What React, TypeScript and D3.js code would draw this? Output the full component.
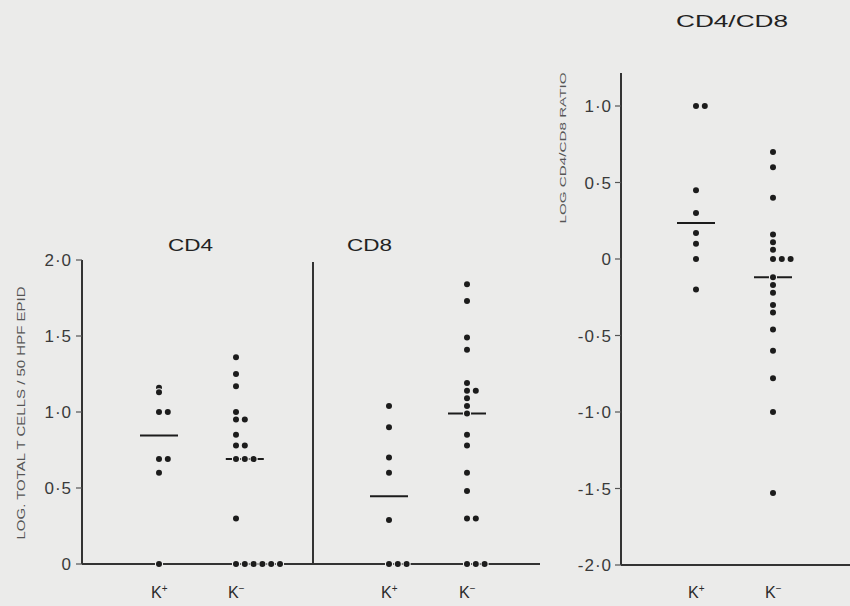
import * as d3 from "d3";

// groups on each panel
const groups = ["K+", "K-"];

// CD4 panel, log total T cells / 50 HPF epid
const cd4KPos = [1.16, 1.13, 1.0, 1.0, 0.69, 0.69, 0.6, 0];
const cd4KNeg = [1.36, 1.25, 1.17, 1.0, 0.95, 0.95, 0.85, 0.78, 0.78, 0.69, 0.69, 0.69, 0.3, 0, 0, 0, 0, 0, 0];

// CD8 panel
const cd8KPos = [1.04, 0.9, 0.7, 0.6, 0.29, 0, 0, 0];
const cd8KNeg = [1.84, 1.73, 1.49, 1.41, 1.19, 1.14, 1.14, 1.09, 1.04, 0.99, 0.85, 0.78, 0.6, 0.48, 0.3, 0.3, 0, 0, 0];

// CD4/CD8 panel, log ratio
const ratioKPos = [1.0, 1.0, 0.45, 0.3, 0.17, 0.1, 0, -0.2];
const ratioKNeg = [0.7, 0.6, 0.4, 0.16, 0.11, 0.06, 0, 0, 0, -0.12, -0.17, -0.22, -0.3, -0.35, -0.46, -0.6, -0.78, -1.0, -1.53];

// tick labels
const cellTicks = [0, 0.5, 1.0, 1.5, 2.0];
const cellTickLabels = ["0", "0·5", "1·0", "1·5", "2·0"];
const ratioTicks = [1.0, 0.5, 0, -0.5, -1.0, -1.5, -2.0];
const ratioTickLabels = ["1·0", "0·5", "0", "-0·5", "-1·0", "-1·5", "-2·0"];

const W = 850;
const H = 606;
const bg = "#ebebea";
const ink = "#1c1c1c";
const font = "'Liberation Sans', Arial, sans-serif";

const yCells = d3.scaleLinear().domain([0, 2]).range([564, 260]);
const yRatio = d3.scaleLinear().domain([-2, 1]).range([565, 106]);

const DOT_GAP = 8.8;
const DOT_R = 3;
const MED_W = 38;

type Panel = {
  series: number[][];
  x: d3.ScalePoint<string>;
  y: d3.ScaleLinear<number, number>;
};

const panels: Panel[] = [
  { series: [cd4KPos, cd4KNeg], x: d3.scalePoint<string>().domain(groups).range([159, 236]), y: yCells },
  { series: [cd8KPos, cd8KNeg], x: d3.scalePoint<string>().domain(groups).range([389, 467]), y: yCells },
  { series: [ratioKPos, ratioKNeg], x: d3.scalePoint<string>().domain(groups).range([696, 773]), y: yRatio },
];

// equal values are laid side by side to the right of the column
function layout(values: number[], cx: number) {
  const seen = new Map<number, number>();
  return values.map((v) => {
    const i = seen.get(v) || 0;
    seen.set(v, i + 1);
    return { v, x: cx + i * DOT_GAP };
  });
}

function GroupMarks({ values, cx, y }: { values: number[]; cx: number; y: d3.ScaleLinear<number, number> }) {
  const dots = layout(values, cx);
  const med = d3.median(values) as number;
  const atMed = dots.filter((d) => d.v === med);
  const mx = atMed.length ? d3.mean(atMed, (d) => d.x)! : cx;
  return (
    <g>
      <line x1={mx - MED_W / 2} x2={mx + MED_W / 2} y1={y(med)} y2={y(med)} stroke={ink} strokeWidth={2} />
      {dots.map((d, i) => (
        <circle key={i} cx={d.x} cy={y(d.v)} r={DOT_R} fill={ink} stroke={bg} strokeWidth={2.2} paintOrder="stroke" />
      ))}
    </g>
  );
}

function KLabel({ x, sign }: { x: number; sign: string }) {
  return (
    <text x={x - 8} y={598} fontFamily={font} fontSize={16} fill="#2a2a2a">
      K
      <tspan fontSize={10} dy={-6}>{sign === "K+" ? "+" : "−"}</tspan>
    </text>
  );
}

export default function App() {
  return (
    <svg width={W} height={H} style={{ position: "absolute", left: 0, top: 0 }}>
      <rect width={W} height={H} fill={bg} />

      {/* titles */}
      <text x={168} y={251} fontFamily={font} fontSize={17} fill="#222" textLength={45} lengthAdjust="spacingAndGlyphs">CD4</text>
      <text x={347} y={251} fontFamily={font} fontSize={17} fill="#222" textLength={45} lengthAdjust="spacingAndGlyphs">CD8</text>
      <text x={676} y={27} fontFamily={font} fontSize={17} fill="#222" textLength={112} lengthAdjust="spacingAndGlyphs">CD4/CD8</text>

      {/* y axis titles */}
      <text transform="translate(25,413) rotate(-90)" textAnchor="middle" fontFamily={font} fontSize={10} fill="#555" textLength={253} lengthAdjust="spacingAndGlyphs">
        LOG. TOTAL T CELLS / 50 HPF EPID
      </text>
      <text transform="translate(566,148) rotate(-90)" textAnchor="middle" fontFamily={font} fontSize={9} fill="#555" textLength={151} lengthAdjust="spacingAndGlyphs">
        LOG CD4/CD8 RATIO
      </text>

      {/* cells axis */}
      <line x1={82} x2={82} y1={yCells(2)} y2={yCells(0)} stroke="#333" strokeWidth={2} />
      {cellTicks.map((t, i) => (
        <g key={t}>
          <line x1={76} x2={82} y1={yCells(t)} y2={yCells(t)} stroke="#555" strokeWidth={1.2} />
          <text x={72} y={yCells(t) + 6} textAnchor="end" fontFamily={font} fontSize={17} letterSpacing={1} fill="#3a3a3a">{cellTickLabels[i]}</text>
        </g>
      ))}
      <line x1={313} x2={313} y1={262} y2={yCells(0)} stroke="#333" strokeWidth={2} />
      <line x1={82} x2={540} y1={yCells(0)} y2={yCells(0)} stroke="#333" strokeWidth={2} />

      {/* ratio axis */}
      <line x1={621} x2={621} y1={73} y2={yRatio(-2)} stroke="#333" strokeWidth={2} />
      {ratioTicks.map((t, i) => (
        <g key={t}>
          <line x1={615} x2={621} y1={yRatio(t)} y2={yRatio(t)} stroke="#555" strokeWidth={1.2} />
          <text x={612} y={yRatio(t) + 6} textAnchor="end" fontFamily={font} fontSize={17} letterSpacing={1} fill="#3a3a3a">{ratioTickLabels[i]}</text>
        </g>
      ))}
      <line x1={621} x2={850} y1={yRatio(-2)} y2={yRatio(-2)} stroke="#333" strokeWidth={2} />

      {panels.map((p, pi) => (
        <g key={pi}>
          {groups.map((g, gi) => (
            <g key={g}>
              <GroupMarks values={p.series[gi]} cx={p.x(g)!} y={p.y} />
              <KLabel x={p.x(g)!} sign={g} />
            </g>
          ))}
        </g>
      ))}
    </svg>
  );
}
